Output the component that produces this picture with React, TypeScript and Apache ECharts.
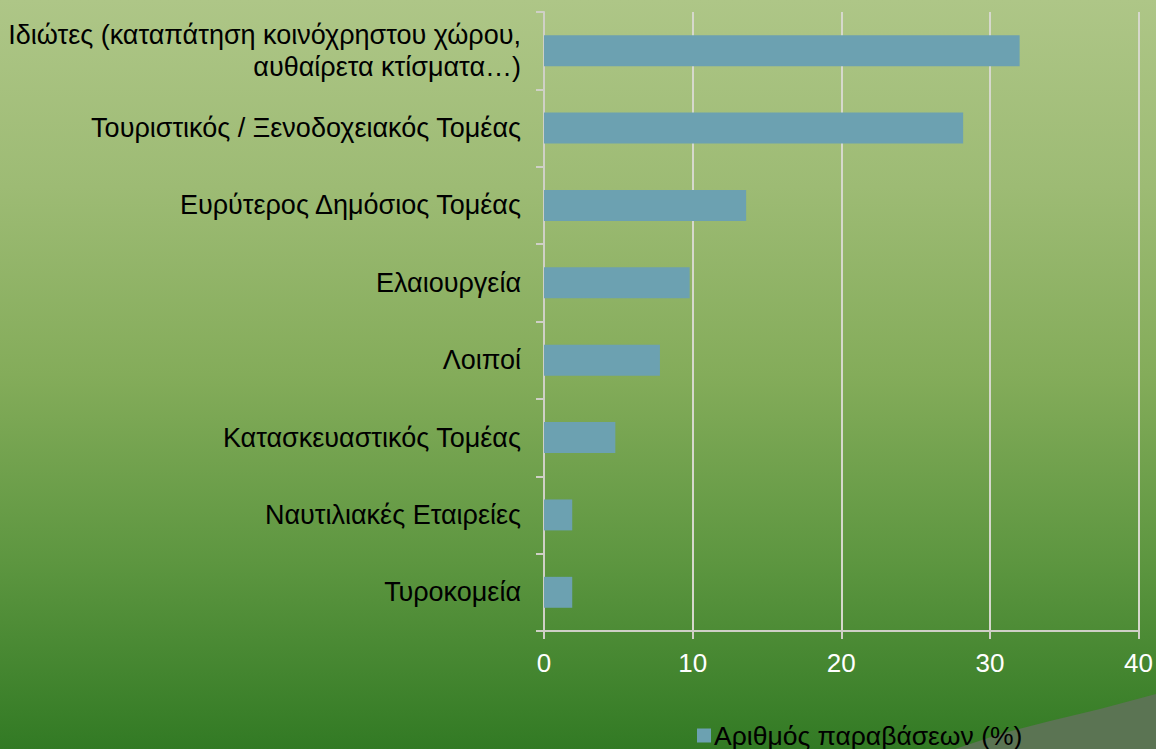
import React, { useEffect, useRef } from "react";
import * as echarts from "echarts";

const categories = [
  "Ιδιώτες (καταπάτηση κοινόχρηστου χώρου,\nαυθαίρετα κτίσματα…)",
  "Τουριστικός / Ξενοδοχειακός Τομέας",
  "Ευρύτερος Δημόσιος Τομέας",
  "Ελαιουργεία",
  "Λοιποί",
  "Κατασκευαστικός Τομέας",
  "Ναυτιλιακές Εταιρείες",
  "Τυροκομεία",
];
const values = [32.0, 28.2, 13.6, 9.8, 7.8, 4.8, 1.9, 1.9];
const seriesName = "Αριθμός παραβάσεων (%)";
const xMin = 0;
const xMax = 40;
const xStep = 10;

export default function App() {
  const ref = useRef<HTMLDivElement>(null);
  useEffect(() => {
    if (!ref.current) return;
    const chart = echarts.init(ref.current, undefined, { renderer: "svg" });
    const font = "'Liberation Sans', Arial, sans-serif";
    chart.setOption({
      animation: false,
      backgroundColor: "transparent",
      textStyle: { fontFamily: font },
      graphic: [
        {
          type: "polygon",
          z: -10,
          silent: true,
          shape: {
            points: [
              [955, 749],
              [1000, 734],
              [1050, 721],
              [1100, 709],
              [1156, 694],
              [1156, 749],
            ],
          },
          style: { fill: "#5b7453" },
        },
      ],
      grid: { left: 544, right: 14, top: 12, bottom: 118, containLabel: false },
      legend: {
        show: true,
        left: 697,
        top: 722,
        padding: 0,
        itemWidth: 14,
        itemHeight: 14,
        itemGap: 4,
        icon: "rect",
        textStyle: { color: "#000", fontSize: 26.5, fontFamily: font, padding: [0, 0, 0, -2] },
        data: [seriesName],
      },
      xAxis: {
        type: "value",
        min: xMin,
        max: xMax,
        interval: xStep,
        axisLine: { show: true, lineStyle: { color: "#cfd0c6", width: 2 } },
        axisTick: { show: true, length: 8, lineStyle: { color: "#cfd0c6", width: 2 } },
        splitLine: { show: true, lineStyle: { color: "#d6d8cc", width: 2 } },
        axisLabel: { color: "#ffffff", fontSize: 26, margin: 19, fontFamily: font },
      },
      yAxis: {
        type: "category",
        inverse: true,
        data: categories,
        axisLine: { show: true, lineStyle: { color: "#cfd0c6", width: 2 } },
        axisTick: { show: true, length: 8, alignWithLabel: false, lineStyle: { color: "#cfd0c6", width: 2 } },
        axisLabel: {
          color: "#000",
          fontSize: 27,
          margin: 23,
          align: "right",
          lineHeight: 32,
          fontFamily: font,
        },
        splitLine: { show: false },
      },
      series: [
        {
          name: seriesName,
          type: "bar",
          data: values,
          barWidth: "40%",
          itemStyle: { color: "#6ca1b1" },
        },
      ],
    });
    return () => chart.dispose();
  }, []);
  return (
    <div
      style={{
        position: "fixed",
        left: 0,
        top: 0,
        width: 1156,
        height: 749,
        background:
          "linear-gradient(to bottom, #aec687 0%, #9dbb74 25%, #84ac5a 50%, #5d9640 75%, #327a24 100%)",
      }}
    >
      <div ref={ref} style={{ width: 1156, height: 749 }} />
    </div>
  );
}
